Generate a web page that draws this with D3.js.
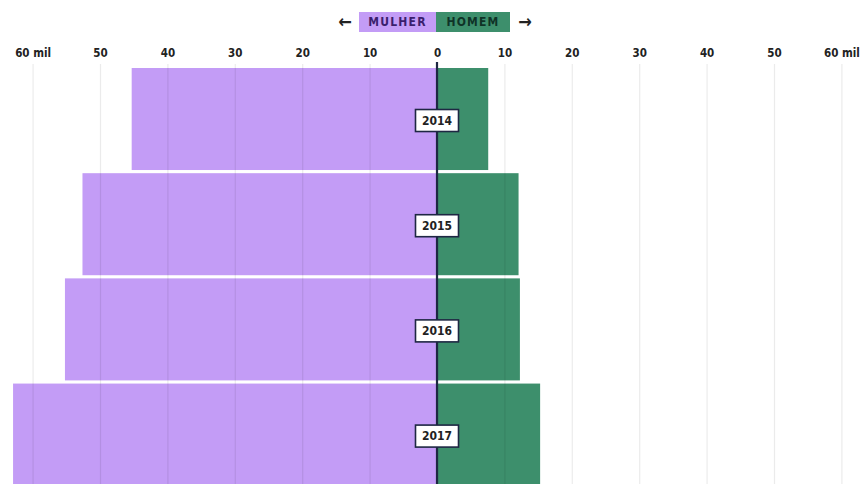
<!DOCTYPE html>
<html><head><meta charset="utf-8">
<script src="https://cdn.jsdelivr.net/npm/d3@7"></script>
<style>
html,body{margin:0;padding:0;background:#fff;}
svg{display:block;}
text{font-family:"DejaVu Sans Condensed","DejaVu Sans",sans-serif;font-weight:bold;}
</style></head>
<body><svg id="c" width="862" height="484"></svg>
<script>
const years = ["2014","2015","2016","2017"];
const mulher = [45.3, 52.6, 55.2, 62.9];   // mil
const homem  = [7.6, 12.1, 12.3, 15.3];    // mil
const tickValues = [-60,-50,-40,-30,-20,-10,0,10,20,30,40,50,60];

const svg = d3.select("#c");
const x = d3.scaleLinear().domain([-60,60]).range([32.6, 841.4]);
const y = d3.scaleBand().domain(years).range([68, 485.6]).paddingInner(0.03).paddingOuter(0);

const purple = "#c39cf6", green = "#3d8f6c";

// bars
const g = svg.append("g");
g.selectAll("rect.m").data(years).join("rect")
  .attr("x", (d,i)=>x(-mulher[i])).attr("y", d=>y(d))
  .attr("width", (d,i)=>x(0)-x(-mulher[i])).attr("height", y.bandwidth())
  .attr("fill", purple);
g.selectAll("rect.h").data(years).join("rect")
  .attr("x", x(0)).attr("y", d=>y(d))
  .attr("width", (d,i)=>x(homem[i])-x(0)).attr("height", y.bandwidth())
  .attr("fill", green);

// gridlines + tick labels via axis
const axis = d3.axisTop(x).tickValues(tickValues)
  .tickSize(-(484-64))
  .tickFormat(d => Math.abs(d) === 60 ? "60 mil" : String(Math.abs(d)));
const ax = svg.append("g").attr("transform","translate(0,64)").call(axis);
ax.select(".domain").remove();
ax.selectAll(".tick line").attr("stroke","#000").attr("stroke-opacity",0.08).attr("stroke-width",1.2);
ax.selectAll(".tick text").attr("y",-7).attr("fill","#222").attr("font-size","11.5px")
  .attr("font-family","DejaVu Sans Condensed, DejaVu Sans, sans-serif").attr("font-weight","bold");

// zero line
svg.append("line").attr("x1",x(0)).attr("x2",x(0)).attr("y1",62).attr("y2",484)
  .attr("stroke","#1e2743").attr("stroke-width",2.2);

// year labels
const lab = svg.append("g").selectAll("g").data(years).join("g")
  .attr("transform", d=>`translate(${x(0)},${y(d)+y.bandwidth()/2+1.5})`);
lab.append("rect").attr("x",-21.5).attr("y",-11).attr("width",43).attr("height",22)
  .attr("fill","#fff").attr("stroke","#1e2743").attr("stroke-width",1.6);
lab.append("text").attr("text-anchor","middle").attr("dy","0.36em")
  .attr("font-size","12px").attr("fill","#222").text(d=>d);

// legend
const leg = svg.append("g");
leg.append("rect").attr("x",359).attr("y",12).attr("width",77).attr("height",20).attr("fill",purple);
leg.append("rect").attr("x",436).attr("y",12).attr("width",74).attr("height",20).attr("fill",green);
leg.append("text").attr("x",397.5).attr("y",22).attr("dy","0.36em").attr("text-anchor","middle")
  .attr("font-size","12px").attr("letter-spacing","1.2px").attr("fill","#3b1f6e").text("MULHER");
leg.append("text").attr("x",473).attr("y",22).attr("dy","0.36em").attr("text-anchor","middle")
  .attr("font-size","12px").attr("letter-spacing","1.2px").attr("fill","#0f3327").text("HOMEM");
leg.append("text").attr("x",345).attr("y",22).attr("dy","0.36em").attr("text-anchor","middle")
  .attr("font-size","18px").attr("font-weight","normal").attr("fill","#222").text("←");
leg.append("text").attr("x",525).attr("y",22).attr("dy","0.36em").attr("text-anchor","middle")
  .attr("font-size","18px").attr("font-weight","normal").attr("fill","#222").text("→");
</script></body></html>
